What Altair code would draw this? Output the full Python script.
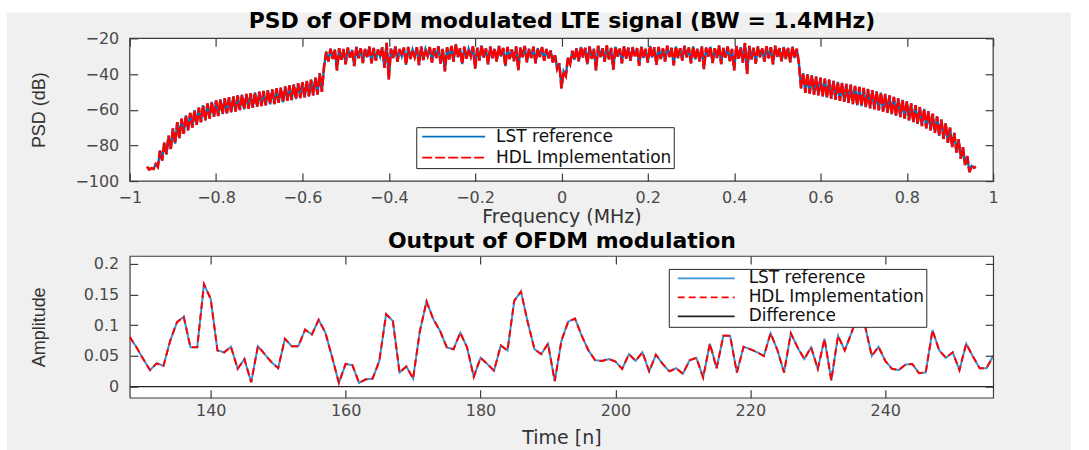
import altair as alt
import pandas as pd

# ------------------------------------------------------------------
# Power spectral density of the OFDM modulated LTE signal (dB)
# frequency grid: -0.96 MHz ... 0.96 MHz in 5 kHz steps
# ------------------------------------------------------------------
FREQ_START = -0.96
FREQ_STEP = 0.005

psd_lower_skirt = [
    -92.0, -93.5, -92.8, -93.2, -90.5, -92.0, -83.0, -88.5, -78.5, -85.0,
    -74.5, -82.0, -70.5, -79.0, -67.0, -76.0, -65.0, -73.5, -63.2, -71.5,
    -61.8, -70.0, -60.2, -68.5, -58.8, -67.0, -57.5, -66.0, -56.5, -65.0,
    -55.6, -64.0, -54.8, -63.5, -54.2, -62.5, -53.6, -62.0, -53.0, -61.5,
    -52.5, -61.0, -52.0, -60.2, -51.6, -59.8, -51.2, -59.5, -50.7, -59.0,
    -50.3, -58.4, -49.9, -58.0, -49.5, -57.6, -49.0, -57.0, -48.6, -56.8,
    -48.0, -56.2, -47.6, -55.8, -47.0, -55.0, -46.4, -54.6, -45.8, -54.0,
    -45.2, -53.5, -44.6, -53.0, -43.8, -52.5, -43.2, -52.0, -42.0, -51.5,
    -39.5, -50.0, -36.0,
]

psd_passband = [
    -27.5, -33.0, -25.8, -31.5, -26.2, -38.0, -25.5, -32.0, -26.0, -34.5,
    -25.2, -30.8, -26.5, -35.5, -24.8, -31.2, -25.6, -33.8, -26.0, -30.5,
    -24.6, -34.0, -25.4, -32.5, -26.3, -30.2, -25.0, -36.5, -22.5, -43.0,
    -25.8, -31.0, -24.5, -33.2, -26.0, -30.0, -25.2, -34.8, -24.8, -31.6,
    -26.4, -30.4, -25.0, -35.0, -24.6, -32.2, -26.1, -29.8, -24.9, -33.6,
    -25.5, -31.0, -24.4, -34.2, -25.9, -38.5, -25.0, -31.8, -24.2, -33.0,
    -23.2, -30.6, -25.6, -34.4, -24.7, -31.4, -26.0, -30.0, -24.5, -37.0,
    -25.3, -32.4, -24.0, -30.8, -25.7, -34.6, -24.6, -31.2, -25.9, -33.0,
    -24.2, -30.2, -25.4, -35.6, -24.8, -31.6, -26.2, -32.8, -24.5, -37.8,
    -25.1, -30.6, -24.3, -33.4, -25.8, -31.0, -24.7, -34.0, -25.5, -30.4,
    -24.9, -32.6, -26.0, -31.2, -26.8, -33.5, -29.5, -37.0, -34.0, -48.0,
    -38.5, -41.0, -31.0, -34.2, -27.0, -32.0, -25.6, -33.0, -24.8, -30.8,
    -25.3, -34.6, -24.5, -31.5, -25.9, -38.0, -24.2, -30.5, -25.6, -33.2,
    -24.0, -31.8, -25.4, -37.5, -24.7, -30.2, -25.8, -34.0, -24.4, -31.4,
    -25.2, -32.6, -24.9, -30.0, -25.5, -35.4, -24.6, -31.0, -25.9, -33.6,
    -24.3, -30.8, -25.0, -34.8, -24.8, -31.6, -25.7, -33.0, -24.1, -30.4,
    -25.3, -35.2, -24.6, -31.2, -25.6, -32.4, -24.2, -30.6, -25.1, -34.0,
    -24.5, -31.8, -25.8, -33.0, -24.4, -37.2, -25.2, -30.2, -24.7, -33.8,
    -25.5, -31.0, -24.0, -34.4, -25.4, -30.8, -24.6, -32.8, -25.9, -38.0,
    -24.3, -31.4, -25.0, -33.6, -22.6, -40.0, -24.2, -31.8, -25.3, -34.2,
    -24.5, -30.6, -25.7, -33.0, -24.4, -31.2, -25.0, -34.6, -24.1, -30.4,
    -25.5, -32.8, -24.8, -31.6, -25.4, -33.4, -24.6, -31.0, -25.8,
]

psd_upper_skirt = [
    -34.0, -48.0, -39.5, -50.5, -40.0, -51.0, -40.8, -51.6, -41.4, -52.0,
    -42.0, -52.6, -42.6, -53.2, -43.2, -53.8, -43.8, -54.4, -44.4, -55.0,
    -45.0, -55.6, -45.5, -56.2, -46.0, -56.8, -46.6, -57.5, -47.2, -58.0,
    -47.8, -58.6, -48.4, -59.2, -49.0, -59.8, -49.7, -60.4, -50.4, -61.0,
    -51.2, -61.8, -52.0, -62.6, -52.8, -63.4, -53.6, -64.2, -54.5, -65.0,
    -55.4, -66.0, -56.4, -67.0, -57.4, -68.0, -58.5, -69.2, -59.6, -70.4,
    -60.8, -71.6, -62.2, -73.0, -63.8, -74.6, -65.6, -76.4, -67.6, -78.5,
    -70.0, -81.0, -73.0, -84.0, -76.5, -87.5, -81.0, -91.0, -86.0, -95.0,
    -91.5, -92.5, -92.0,
]

psd_ref = psd_lower_skirt + psd_passband + psd_upper_skirt
psd_hdl = list(psd_ref)  # the HDL model reproduces the reference spectrum
freq = [round(FREQ_START + i * FREQ_STEP, 3) for i in range(len(psd_ref))]

freq_ticks = [-1, -0.8, -0.6, -0.4, -0.2, 0, 0.2, 0.4, 0.6, 0.8, 1]
psd_ticks = [-100, -80, -60, -40, -20]

# ------------------------------------------------------------------
# Time-domain output of the OFDM modulator, samples 128 ... 256
# ------------------------------------------------------------------
N_START = 128
amp_ref = [
    0.081, 0.064, 0.045, 0.027, 0.038, 0.034, 0.075, 0.105, 0.114, 0.064,
    0.064, 0.167, 0.143, 0.059, 0.056, 0.065, 0.029, 0.045, 0.007, 0.066,
    0.053, 0.040, 0.030, 0.078, 0.066, 0.066, 0.093, 0.085, 0.109, 0.088,
    0.048, 0.006, 0.037, 0.035, 0.006, 0.012, 0.013, 0.042, 0.118, 0.107,
    0.023, 0.033, 0.013, 0.090, 0.139, 0.110, 0.091, 0.064, 0.061, 0.088,
    0.064, 0.016, 0.047, 0.037, 0.026, 0.067, 0.059, 0.140, 0.155, 0.105,
    0.061, 0.053, 0.070, 0.009, 0.075, 0.106, 0.111, 0.083, 0.059, 0.043,
    0.042, 0.045, 0.041, 0.029, 0.053, 0.042, 0.056, 0.025, 0.052, 0.037,
    0.025, 0.030, 0.021, 0.043, 0.047, 0.015, 0.070, 0.030, 0.083, 0.083,
    0.023, 0.065, 0.061, 0.056, 0.050, 0.087, 0.060, 0.023, 0.087, 0.064,
    0.045, 0.064, 0.029, 0.078, 0.010, 0.083, 0.059, 0.088, 0.118, 0.099,
    0.050, 0.065, 0.042, 0.029, 0.027, 0.036, 0.037, 0.022, 0.023, 0.092,
    0.059, 0.047, 0.056, 0.027, 0.070, 0.049, 0.030, 0.030, 0.050,
]
amp_hdl = list(amp_ref)
amp_diff = [h - r for h, r in zip(amp_hdl, amp_ref)]
samples = [N_START + i for i in range(len(amp_ref))]

time_ticks = [140, 160, 180, 200, 220, 240]
amp_ticks = [0, 0.05, 0.1, 0.15, 0.2]

# ------------------------------------------------------------------
# styling
# ------------------------------------------------------------------
TOP_SERIES = ["LST reference", "HDL Implementation"]
BOT_SERIES = ["LST reference", "HDL Implementation", "Difference"]
BLUE_TOP = "#0072BD"
BLUE_BOT = "#3a93d6"
RED = "#ff0000"
AX = "#3c3c3c"
LABEL = "#4a4a4a"
PANEL = "#f0f0f0"
FONT = "DejaVu Sans"
TICK = 8

W, H1, H2 = 865, 143, 142
CANVAS_W, CANVAS_H = 1089, 450
PLOT_X, PLOT_Y = 129, 37

# tick labels written with a true minus sign, no rounding of the tick values
LABEL_EXPR = "datum.value < 0 ? '\u2212' + toString(-datum.value) : toString(datum.value)"


def axis(orient, values, labels=True, title=None, **extra):
    kw = dict(
        orient=orient, values=values, labels=labels, title=title,
        domain=False, grid=False, ticks=True, tickSize=TICK, offset=-TICK,
        tickColor=AX, tickWidth=1.2, zindex=1, labelFlush=False,
        labelOverlap=False,
    )
    if labels:
        kw.update(labelExpr=LABEL_EXPR, labelFont=FONT, labelFontSize=16,
                  labelColor=LABEL)
    kw.update(extra)
    return alt.Axis(**kw)


def heading(text, y):
    # bold panel heading carried by the mirrored top axis
    return dict(title=text, titleFont=FONT, titleFontSize=22,
                titleFontWeight="bold", titleColor="#000000",
                titleX=W / 2, titleY=y, titleAlign="center",
                titleBaseline="alphabetic")


def ylabel(text, y):
    return dict(title=text, titleFont="Liberation Sans", titleFontSize=18,
                titleColor="#333333", titleFontWeight="normal", titleX=-98,
                titleY=y, titleAlign="center", titleBaseline="middle",
                titleAngle=270)


def xlabel(text, y):
    return dict(title=text, titleFont=FONT, titleFontSize=19,
                titleColor="#333333", titleFontWeight="normal",
                titleBaseline="alphabetic", titleY=y, titleX=W / 2,
                titleAlign="center")


def legend(x, y, row_pad, sym_len, sym_off, lab_off):
    return alt.Legend(
        orient="none", legendX=x, legendY=y, title=None, direction="vertical",
        symbolType="stroke", symbolSize=sym_len ** 2, symbolStrokeWidth=1.8,
        symbolOffset=sym_off, clipHeight=15, rowPadding=row_pad,
        labelFont=FONT, labelFontSize=17, labelColor="#111111",
        labelOffset=lab_off, labelLimit=400, padding=2,
        fillColor="white", strokeColor="#262626",
    )


one = pd.DataFrame({"k": [0]})

# figure background: white page edge, grey figure panel, white axes box
canvas = alt.Chart(one).mark_rect(color="white").encode(
    x=alt.value(-PLOT_X), x2=alt.value(CANVAS_W - PLOT_X),
    y=alt.value(-PLOT_Y), y2=alt.value(CANVAS_H - PLOT_Y))
panel = alt.Chart(one).mark_rect(color=PANEL).encode(
    x=alt.value(6 - PLOT_X), x2=alt.value(1072 - PLOT_X),
    y=alt.value(11 - PLOT_Y), y2=alt.value(CANVAS_H - PLOT_Y))
box = alt.Chart(one).mark_rect(fill="white", stroke=AX, strokeWidth=1.2).encode(
    x=alt.value(0), x2=alt.value(W), y=alt.value(0), y2=alt.value(H1))

# ---------------- PSD panel ----------------
psd_ref_df = pd.DataFrame({"freq": freq, "psd": psd_ref, "series": TOP_SERIES[0]})
psd_hdl_df = pd.DataFrame({"freq": freq, "psd": psd_hdl, "series": TOP_SERIES[1]})

fx = alt.Scale(domain=[-1, 1], nice=False, zero=False)
fy = alt.Scale(domain=[-100, -20], nice=False, zero=False)
top_leg = legend(287, 89, 3, 63, 3, 10)
top_color = alt.Color("series:N", scale=alt.Scale(domain=TOP_SERIES, range=[BLUE_TOP, RED]),
                      legend=top_leg)
top_dash = alt.StrokeDash("series:N", scale=alt.Scale(domain=TOP_SERIES, range=[[1, 0], [10, 3]]),
                          legend=top_leg)

psd_ref_line = alt.Chart(psd_ref_df).mark_line(strokeWidth=2.4).encode(
    x=alt.X("freq:Q", scale=fx, axis=axis(
        "bottom", freq_ticks, labelPadding=8, **xlabel("Frequency (MHz)", 49))),
    y=alt.Y("psd:Q", scale=fy, axis=axis(
        "left", psd_ticks, labelPadding=11, **ylabel("PSD (dB)", H1 / 2))),
    color=top_color, strokeDash=top_dash,
)
psd_hdl_line = alt.Chart(psd_hdl_df).mark_line(strokeWidth=2.6).encode(
    x=alt.X("freq:Q", scale=fx, axis=None),
    y=alt.Y("psd:Q", scale=fy, axis=None),
    color=top_color, strokeDash=top_dash,
)
psd_frame = alt.Chart(psd_ref_df).mark_line(opacity=0).encode(
    x=alt.X("freq:Q", scale=fx, axis=axis(
        "top", freq_ticks, labels=False,
        **heading("PSD of OFDM modulated LTE signal (BW = 1.4MHz)", -10.5 - TICK))),
    y=alt.Y("psd:Q", scale=fy, axis=axis("right", psd_ticks, labels=False)),
)

top = alt.layer(canvas, panel, box, psd_ref_line, psd_hdl_line, psd_frame).resolve_axis(
    x="independent", y="independent"
).properties(width=W, height=H1)

# ---------------- time-domain panel ----------------
amp_ref_df = pd.DataFrame({"n": samples, "amp": amp_ref, "series": BOT_SERIES[0]})
amp_hdl_df = pd.DataFrame({"n": samples, "amp": amp_hdl, "series": BOT_SERIES[1]})
amp_diff_df = pd.DataFrame({"n": samples, "amp": amp_diff, "series": BOT_SERIES[2]})

tx = alt.Scale(domain=[128, 256], nice=False, zero=False)
ty = alt.Scale(domain=[-0.018, 0.213], nice=False, zero=False)
bot_leg = legend(540, 13, 1, 57, 6, 13)
bot_color = alt.Color("series:N", scale=alt.Scale(domain=BOT_SERIES, range=[BLUE_BOT, RED, "#222222"]),
                      legend=bot_leg)
bot_dash = alt.StrokeDash("series:N", scale=alt.Scale(domain=BOT_SERIES, range=[[1, 0], [7, 4], [1, 0]]),
                          legend=bot_leg)

amp_ref_line = alt.Chart(amp_ref_df).mark_line(strokeWidth=2).encode(
    x=alt.X("n:Q", scale=tx, axis=axis(
        "bottom", time_ticks, labelPadding=5, **xlabel("Time [n]", 54))),
    y=alt.Y("amp:Q", scale=ty, axis=axis(
        "left", amp_ticks, labelPadding=11, **ylabel("Amplitude", H2 / 2))),
    color=bot_color, strokeDash=bot_dash,
)
amp_hdl_line = alt.Chart(amp_hdl_df).mark_line(strokeWidth=2).encode(
    x=alt.X("n:Q", scale=tx, axis=None),
    y=alt.Y("amp:Q", scale=ty, axis=None),
    color=bot_color, strokeDash=bot_dash,
)
amp_diff_line = alt.Chart(amp_diff_df).mark_line(strokeWidth=1.2).encode(
    x=alt.X("n:Q", scale=tx, axis=None),
    y=alt.Y("amp:Q", scale=ty, axis=None),
    color=bot_color, strokeDash=bot_dash,
)
amp_frame = alt.Chart(amp_ref_df).mark_line(opacity=0).encode(
    x=alt.X("n:Q", scale=tx, axis=axis(
        "top", time_ticks, labels=False,
        **heading("Output of OFDM modulation", -8 - TICK))),
    y=alt.Y("amp:Q", scale=ty, axis=axis("right", amp_ticks, labels=False)),
)

bottom = alt.layer(amp_ref_line, amp_hdl_line, amp_diff_line, amp_frame).resolve_axis(
    x="independent", y="independent"
).properties(width=W, height=H2)

chart = alt.vconcat(top, bottom, spacing=75, bounds="flush").resolve_scale(
    color="independent", strokeDash="independent"
).properties(
    padding=0, background="white",
).configure_view(
    fill="white", stroke=AX, strokeWidth=1.2,
)

chart.save("out.html", embed_options={"renderer": "svg", "actions": False})
